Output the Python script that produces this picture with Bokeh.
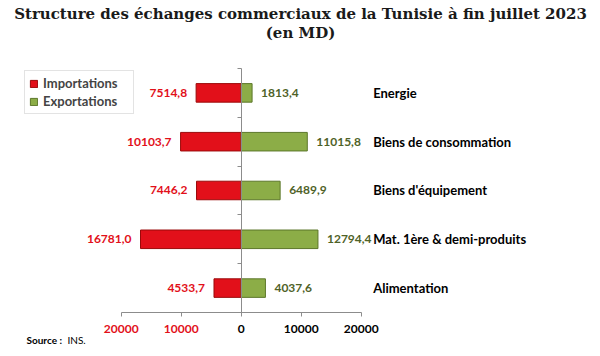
import pandas as pd
from bokeh.plotting import figure
from bokeh.models import (Range1d, LinearAxis, FixedTicker, Legend, LegendItem,
                          ColumnDataSource, Label)
from bokeh.core.properties import value
from bokeh.embed import file_html
from bokeh.resources import INLINE

# ---- data ----
categories = ["Alimentation", "Mat. 1ère & demi-produits", "Biens d'équipement",
              "Biens de consommation", "Energie"]
importations = [4533.7, 16781.0, 7446.2, 10103.7, 7514.8]
exportations = [4037.6, 12794.4, 6489.9, 11015.8, 1813.4]
x_ticks = [-20000, -10000, 0, 10000, 20000]
title_line1 = "Structure des échanges commerciaux de la Tunisie à fin juillet 2023"
title_line2 = "(en MD)"
source_bold = "Source :"
source_rest = "INS."

df = pd.DataFrame({"cat": categories, "imp": importations, "exp": exportations})
df["y"] = range(len(df))
df["imp_neg"] = -df["imp"]
df["imp_txt"] = df["imp"].map(lambda v: f"{v:.1f}".replace(".", ","))
df["exp_txt"] = df["exp"].map(lambda v: f"{v:.1f}".replace(".", ","))
src = ColumnDataSource(df)

FONT = "Lato"
RED = "#E2101A"
RED_LINE = "#9A0A0A"
GREEN = "#8CAD47"
GREEN_LINE = "#5C772A"
GREEN_TXT = "#4F6228"
AXIS_GREY = "#8C8C8C"

W, H = 600, 356
p = figure(width=W, height=H, output_backend="svg", toolbar_location=None,
           x_axis_type=None, y_axis_type=None,
           x_range=Range1d(-40117, 59884), y_range=Range1d(-1.4016, 5.893),
           min_border=0)
p.outline_line_color = None
p.grid.visible = False
p.background_fill_color = "white"
p.border_fill_color = "white"

# bars
r_imp = p.hbar(y="y", left="imp_neg", right=0, height=0.38, source=src,
               fill_color=RED, line_color=RED_LINE, line_width=1)
r_exp = p.hbar(y="y", left=0, right="exp", height=0.38, source=src,
               fill_color=GREEN, line_color=GREEN_LINE, line_width=1)

# value labels
p.text(x="imp_neg", y="y", text="imp_txt", source=src, x_offset=-9,
       text_align="right", text_baseline="middle", text_color=RED,
       text_font=value(FONT), text_font_style="bold", text_font_size="12px")
p.text(x="exp", y="y", text="exp_txt", source=src, x_offset=9,
       text_align="left", text_baseline="middle", text_color=GREEN_TXT,
       text_font=value(FONT), text_font_style="bold", text_font_size="12px")

y_bottom = -0.5
y_top = len(categories) - 0.5


def style_x_axis(ax, color, line=True):
    ax.axis_line_color = AXIS_GREY if line else None
    ax.major_tick_line_color = AXIS_GREY
    ax.major_tick_out = 4
    ax.major_tick_in = 0
    ax.minor_tick_line_color = None
    ax.major_label_standoff = 9
    ax.major_label_text_font = FONT
    ax.major_label_text_font_style = "bold"
    ax.major_label_text_font_size = "12px"
    ax.major_label_text_color = color


# x axis: positive side (black labels)
xa = LinearAxis(ticker=FixedTicker(ticks=[t for t in x_ticks if t >= 0]),
                bounds=(x_ticks[0], x_ticks[-1]), fixed_location=y_bottom)
style_x_axis(xa, "black")
p.add_layout(xa, "below")

# x axis: negative side (red labels, shown as absolute values)
neg_ticks = [t for t in x_ticks if t < 0]
xa2 = LinearAxis(ticker=FixedTicker(ticks=neg_ticks), fixed_location=y_bottom,
                 major_label_overrides={t: str(abs(t)) for t in neg_ticks})
style_x_axis(xa2, RED, line=False)
p.add_layout(xa2, "below")

# central vertical axis at x = 0, ticks between categories
ya = LinearAxis(fixed_location=0,
                ticker=FixedTicker(ticks=[i + 0.5 for i in range(len(categories))]),
                bounds=(y_bottom, y_top))
ya.axis_line_color = AXIS_GREY
ya.major_tick_line_color = AXIS_GREY
ya.major_tick_out = 4
ya.major_tick_in = 0
ya.minor_tick_line_color = None
ya.major_label_text_font_size = "0px"
ya.major_label_text_alpha = 0
p.add_layout(ya, "left")

# category labels, just right of the last x tick
yr = LinearAxis(ticker=FixedTicker(ticks=list(range(len(categories)))),
                fixed_location=x_ticks[-1],
                major_label_overrides={i: c for i, c in enumerate(categories)})
yr.axis_line_color = None
yr.major_tick_line_color = None
yr.minor_tick_line_color = None
yr.major_tick_out = 0
yr.major_tick_in = 0
yr.major_label_standoff = 12
yr.major_label_text_font = FONT
yr.major_label_text_font_style = "bold"
yr.major_label_text_font_size = "13px"
yr.major_label_text_color = "black"
p.add_layout(yr, "right")

# titles
for txt, sy in [(title_line1, H - 13), (title_line2, H - 32)]:
    p.add_layout(Label(x=W / 2, y=sy, x_units="screen", y_units="screen",
                       text=txt, text_align="center", text_baseline="middle",
                       text_font="DejaVu Serif", text_font_style="bold",
                       text_font_size="15px", text_color="#1a1a1a"))

# legend
legend = Legend(items=[LegendItem(label="Importations", renderers=[r_imp]),
                       LegendItem(label="Exportations", renderers=[r_exp])],
                location=(24, H - 114))
legend.border_line_color = "#C8C8C8"
legend.label_text_font = FONT
legend.label_text_font_style = "bold"
legend.label_text_font_size = "13px"
legend.glyph_width = 9
legend.glyph_height = 9
legend.label_standoff = 5
legend.label_height = 14
legend.label_width = 86
legend.spacing = 2
legend.padding = 4
legend.margin = 0
p.add_layout(legend, "center")

# source note
p.add_layout(Label(x=26, y=H - 339, x_units="screen", y_units="screen", text=source_bold,
                   text_font=FONT, text_font_style="bold", text_font_size="10px",
                   text_baseline="middle", text_color="black"))
p.add_layout(Label(x=67, y=H - 339, x_units="screen", y_units="screen", text=source_rest,
                   text_font=FONT, text_font_size="10px",
                   text_baseline="middle", text_color="black"))

open("out.html", "w").write(file_html(p, INLINE))
